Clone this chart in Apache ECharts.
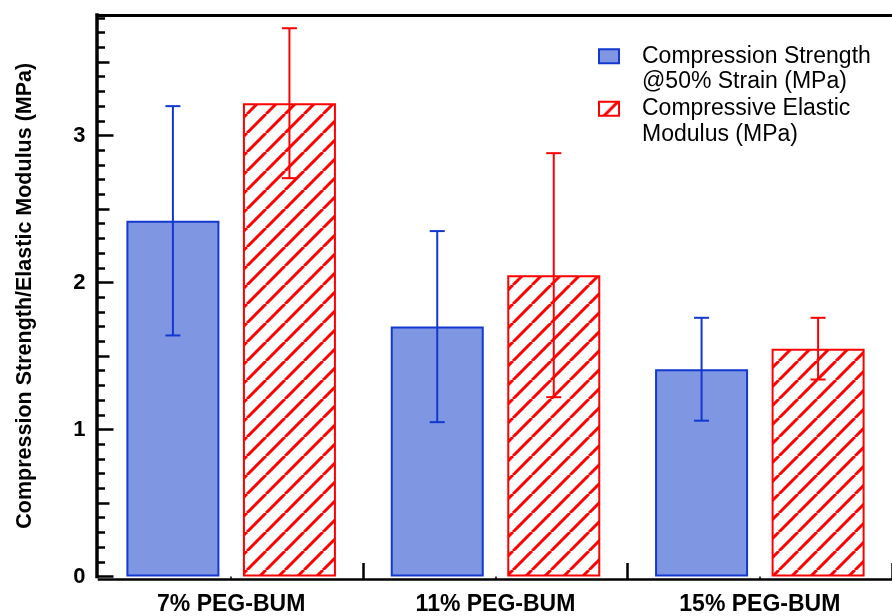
<!DOCTYPE html>
<html>
<head>
<meta charset="utf-8">
<script src="https://cdn.jsdelivr.net/npm/echarts@6/dist/echarts.min.js"></script>
<style>
html,body{margin:0;padding:0;background:#fff;}
#chart{width:892px;height:616px;}
</style>
</head>
<body>
<div id="chart"></div>
<script>
// ---- data ----
const categories = ['7% PEG-BUM', '11% PEG-BUM', '15% PEG-BUM'];
const strengthMean = [2.42, 1.70, 1.41];
const strengthSD = [0.78, 0.65, 0.35];
const modulusMean = [3.22, 2.05, 1.55];
const modulusSD = [0.51, 0.83, 0.21];
const seriesNames = ['Compression Strength\n@50% Strain (MPa)', 'Compressive Elastic\nModulus (MPa)'];
const yAxisTitle = 'Compression Strength/Elastic Modulus (MPa)';
const yMin = 0, yMax = 3.82;
const yMajor = 1, yMedium = 0.5, yMinor = 0.1;

// ---- styling ----
const FONT = "'Liberation Sans', Arial, sans-serif";
const BLUE_FILL = '#7f97e3';
const BLUE_LINE = '#1238d0';
const RED = '#ff0000';
const BAR_W = 93;
const BAR_GAP_RATIO = 0.253;
const BAR_SHIFT = BAR_W * (1 + BAR_GAP_RATIO) / 2;
const CAP = 15;

// hatch pattern
const S = 19;
const pc = document.createElement('canvas');
pc.width = S; pc.height = S;
const g = pc.getContext('2d');
g.fillStyle = '#fff'; g.fillRect(0, 0, S, S);
g.strokeStyle = RED; g.lineWidth = 3;
g.beginPath();
for (let k = -1; k <= 1; k++) { g.moveTo(k * S, S); g.lineTo(k * S + S, 0); }
g.stroke();
const hatch = {image: pc, repeat: 'repeat'};

function errData(mean, sd) { return mean.map((m, i) => [i, m - sd[i], m + sd[i]]); }
function errRender(sign, color) {
  return function (params, api) {
    const idx = api.value(0);
    const lo = api.coord([idx, api.value(1)]);
    const hi = api.coord([idx, api.value(2)]);
    const x = lo[0] + sign * BAR_SHIFT;
    const st = {stroke: color, lineWidth: 2};
    return {type: 'group', children: [
      {type: 'line', shape: {x1: x, y1: hi[1], x2: x, y2: lo[1]}, style: st},
      {type: 'line', shape: {x1: x - CAP / 2, y1: hi[1], x2: x + CAP / 2, y2: hi[1]}, style: st},
      {type: 'line', shape: {x1: x - CAP / 2, y1: lo[1], x2: x + CAP / 2, y2: lo[1]}, style: st}
    ]};
  };
}

function legendCfg(name, top) {
  return {
    data: [name], left: 598, top: top, padding: 0, itemWidth: 20, itemHeight: 14,
    selectedMode: false, icon: 'rect',
    formatter: (n) => '\n' + n,
    textStyle: {fontFamily: FONT, fontSize: 23, lineHeight: 25.5, color: '#000', padding: [0, 0, 0, 18]}
  };
}

const minorAxis = (interval, len) => ({
  type: 'value', position: 'left', min: yMin, max: yMax, interval: interval, offset: 2.5,
  axisLine: {show: false},
  axisTick: {show: true, inside: true, length: len, lineStyle: {color: '#000', width: 2.5}},
  axisLabel: {show: false}, splitLine: {show: false}
});

const chart = echarts.init(document.getElementById('chart'), null, {renderer: 'canvas'});
chart.setOption({
  animation: false,
  backgroundColor: '#fff',
  grid: {left: 99, right: -5.7, top: 15, bottom: 39.5, containLabel: false},
  legend: [legendCfg(seriesNames[0], 18), legendCfg(seriesNames[1], 70.5)],
  xAxis: [
    {
      type: 'category', data: categories, position: 'bottom', offset: 2.5,
      axisLine: {onZero: false, lineStyle: {color: '#000', width: 2.5, cap: 'square'}},
      axisTick: {show: true, inside: true, length: 16, interval: (i) => i > 0, lineStyle: {color: '#000', width: 2.5}},
      axisLabel: {fontFamily: FONT, fontSize: 23, fontWeight: 'bold', color: '#000', margin: 14},
      splitLine: {show: false}
    },
    {
      type: 'category', data: categories, position: 'top',
      axisLine: {onZero: false, lineStyle: {color: '#000', width: 3, cap: 'square'}},
      axisTick: {show: false}, axisLabel: {show: false}, splitLine: {show: false}
    },
    {
      type: 'category', data: categories, position: 'bottom', offset: 2.5,
      axisLine: {show: false},
      axisTick: {show: true, alignWithLabel: true, inside: false, length: 3, lineStyle: {color: '#000', width: 1.5}},
      axisLabel: {show: false}, splitLine: {show: false}
    }
  ],
  yAxis: [
    {
      type: 'value', position: 'left', min: yMin, max: yMax, interval: yMajor, offset: 2.5,
      name: yAxisTitle, nameLocation: 'middle', nameGap: 60,
      nameTextStyle: {fontFamily: FONT, fontSize: 21.5, fontWeight: 'bold', color: '#000'},
      axisLine: {show: true, lineStyle: {color: '#000', width: 3.5, cap: 'square'}},
      axisTick: {show: true, inside: true, length: 17, lineStyle: {color: '#000', width: 2.5}},
      axisLabel: {fontFamily: FONT, fontSize: 22, fontWeight: 'bold', color: '#000', margin: 11, showMaxLabel: false,
        formatter: (v) => (Math.abs(v - Math.round(v)) < 1e-6 ? String(Math.round(v)) : '')},
      splitLine: {show: false}
    },
    minorAxis(yMedium, 13),
    minorAxis(yMinor, 8.5)
  ],
  series: [
    {
      name: seriesNames[0], type: 'bar', xAxisIndex: 0, yAxisIndex: 0,
      data: strengthMean, barWidth: BAR_W, barGap: (BAR_GAP_RATIO * 100) + '%',
      itemStyle: {color: BLUE_FILL, borderColor: BLUE_LINE, borderWidth: 2}
    },
    {
      name: seriesNames[1], type: 'bar', xAxisIndex: 0, yAxisIndex: 0,
      data: modulusMean, barWidth: BAR_W,
      itemStyle: {color: hatch, borderColor: RED, borderWidth: 2}
    },
    {
      name: 'strengthErr', type: 'custom', xAxisIndex: 0, yAxisIndex: 0,
      data: errData(strengthMean, strengthSD), encode: {x: 0, y: [1, 2]},
      renderItem: errRender(-1, BLUE_LINE), z: 5
    },
    {
      name: 'modulusErr', type: 'custom', xAxisIndex: 0, yAxisIndex: 0,
      data: errData(modulusMean, modulusSD), encode: {x: 0, y: [1, 2]},
      renderItem: errRender(1, RED), z: 5
    }
  ]
});
</script>
</body>
</html>
